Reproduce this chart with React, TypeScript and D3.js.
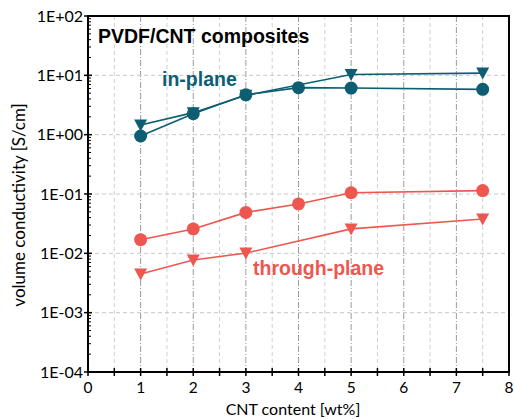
import React from "react";
import * as d3 from "d3";

const xTicks = [0, 1, 2, 3, 4, 5, 6, 7, 8];
const yTickExps = [2, 1, 0, -1, -2, -3, -4];
const yTickLabels = ["1E+02", "1E+01", "1E+00", "1E-01", "1E-02", "1E-03", "1E-04"];

const inCircleX = [1, 2, 3, 4, 5, 7.5];
const inCircleY = [0.95, 2.25, 4.7, 6.2, 6.1, 5.8];
const inTriX = [1, 2, 3, 5, 7.5];
const inTriY = [1.45, 2.35, 4.6, 10.3, 10.9];
const thCircleX = [1, 2, 3, 4, 5, 7.5];
const thCircleY = [0.017, 0.0258, 0.049, 0.068, 0.105, 0.114];
const thTriX = [1, 2, 3, 5, 7.5];
const thTriY = [0.0045, 0.0077, 0.0101, 0.0258, 0.038];

const TEAL = "#0d5e72";
const RED = "#ee5750";

const W = 514, H = 419;
const L = 88, R = 509, T = 16, B = 372;

export default function App() {
  const x = d3.scaleLinear().domain([0, 8]).range([L, R]);
  const y = d3.scaleLog().domain([1e-4, 1e2]).range([B, T]);
  const line = d3.line<[number, number]>().x(d => x(d[0])).y(d => y(d[1]));
  const zip = (a: number[], b: number[]) => a.map((v, i) => [v, b[i]] as [number, number]);

  const halfTicks = d3.range(0.5, 8, 1);
  const minorY: number[] = [];
  for (let e = -4; e < 2; e++) for (let k = 2; k <= 9; k++) minorY.push(k * Math.pow(10, e));

  const tri = (cx: number, cy: number, c: string, key: string) => (
    <path key={key} d={`M${cx - 6.5},${cy - 5.5} L${cx + 6.5},${cy - 5.5} L${cx},${cy + 6.5} Z`} fill={c} />
  );

  const font = "Lato, 'Open Sans', sans-serif";
  const bold = "'Liberation Sans', Arial, sans-serif";

  return (
    <svg width={W} height={H} style={{ position: "absolute", left: 0, top: 0 }}>
      <rect width={W} height={H} fill="#fff" />
      {/* grid */}
      {halfTicks.map(v => (
        <line key={"gh" + v} x1={x(v)} x2={x(v)} y1={T} y2={B} stroke="#d0d0d0" strokeWidth={1} strokeDasharray="4,3" />
      ))}
      {xTicks.slice(1, -1).map(v => (
        <line key={"gx" + v} x1={x(v)} x2={x(v)} y1={T} y2={B} stroke="#9a9a9a" strokeWidth={1} strokeDasharray="6,2,1,2" />
      ))}
      {yTickExps.slice(1, -1).map(e => (
        <line key={"gy" + e} x1={L} x2={R} y1={y(Math.pow(10, e))} y2={y(Math.pow(10, e))} stroke="#c8c8c8" strokeWidth={1} strokeDasharray="4,3" />
      ))}
      {/* series lines */}
      <path d={line(zip(inTriX, inTriY)) || ""} fill="none" stroke={TEAL} strokeWidth={1.6} />
      <path d={line(zip(inCircleX, inCircleY)) || ""} fill="none" stroke={TEAL} strokeWidth={1.6} />
      <path d={line(zip(thCircleX, thCircleY)) || ""} fill="none" stroke={RED} strokeWidth={1.6} />
      <path d={line(zip(thTriX, thTriY)) || ""} fill="none" stroke={RED} strokeWidth={1.6} />
      {inTriX.map((v, i) => tri(x(v), y(inTriY[i]), TEAL, "it" + i))}
      {inCircleX.map((v, i) => <circle key={"ic" + i} cx={x(v)} cy={y(inCircleY[i])} r={6.5} fill={TEAL} />)}
      {thCircleX.map((v, i) => <circle key={"tc" + i} cx={x(v)} cy={y(thCircleY[i])} r={6.5} fill={RED} />)}
      {thTriX.map((v, i) => tri(x(v), y(thTriY[i]), RED, "tt" + i))}
      {/* frame */}
      <rect x={L} y={T} width={R - L} height={B - T} fill="none" stroke="#000" strokeWidth={2} />
      {/* y ticks */}
      {minorY.map((v, i) => (
        <line key={"my" + i} x1={L} x2={L + 3} y1={y(v)} y2={y(v)} stroke="#000" strokeWidth={1} />
      ))}
      {yTickExps.map((e, i) => (
        <g key={"yt" + e}>
          <line x1={L - 4} x2={L + 4} y1={y(Math.pow(10, e))} y2={y(Math.pow(10, e))} stroke="#000" strokeWidth={1.5} />
          <text x={L - 5} y={y(Math.pow(10, e))} dy="0.36em" textAnchor="end" fontFamily={font} fontSize={16} fill="#000">{yTickLabels[i]}</text>
        </g>
      ))}
      {/* x ticks */}
      {halfTicks.map(v => (
        <line key={"mx" + v} x1={x(v)} x2={x(v)} y1={B - 4} y2={B + 4} stroke="#000" strokeWidth={1.5} />
      ))}
      {xTicks.map(v => (
        <g key={"xt" + v}>
          <line x1={x(v)} x2={x(v)} y1={B - 4} y2={B + 4} stroke="#000" strokeWidth={1.5} />
          <text x={x(v)} y={393} textAnchor="middle" fontFamily={font} fontSize={15.5} fill="#000">{v}</text>
        </g>
      ))}
      {/* labels */}
      <text x={293} y={415} textAnchor="middle" fontFamily={font} fontSize={16} fill="#000">CNT content [wt%]</text>
      <text transform={`translate(25,${(T + B) / 2 + 11}) rotate(-90)`} textAnchor="middle" fontFamily={font} fontSize={17} fill="#000">volume conductivity [S/cm]</text>
      <text x={98} y={43} fontFamily={bold} fontWeight="bold" fontSize={19.5} fill="#000">PVDF/CNT composites</text>
      <text x={162} y={86} fontFamily={bold} fontWeight="bold" fontSize={19.5} fill={TEAL}>in-plane</text>
      <text x={253} y={275} fontFamily={bold} fontWeight="bold" fontSize={19.5} fill={RED}>through-plane</text>
    </svg>
  );
}
